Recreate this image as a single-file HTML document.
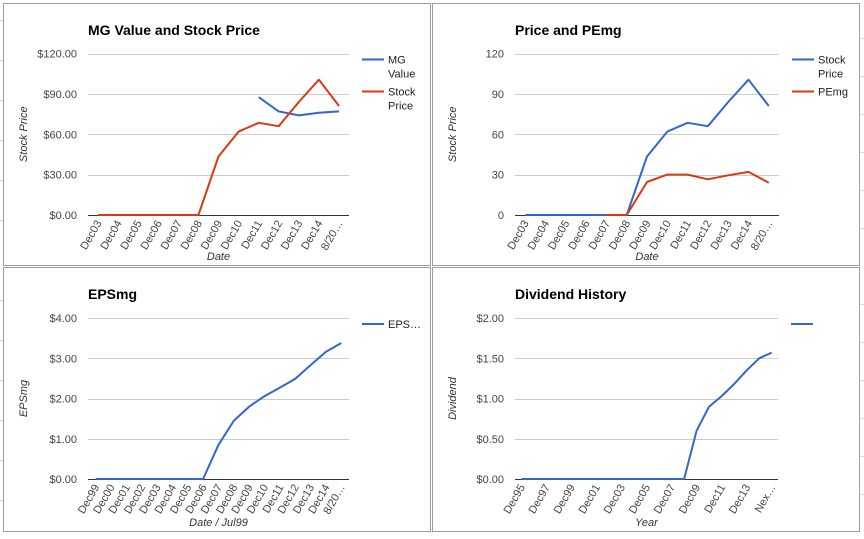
<!DOCTYPE html>
<html><head><meta charset="utf-8"><style>
body{margin:0;width:864px;height:534px;background:#fff;overflow:hidden;font-family:"Liberation Sans",Arial,sans-serif}
svg text{font-family:"Liberation Sans",Arial,sans-serif}
</style></head><body>
<svg id="root" width="864" height="534">
<g stroke="#d9d9d9" stroke-width="1">
<line x1="0" y1="20.5" x2="3" y2="20.5"/><line x1="0" y1="60.5" x2="3" y2="60.5"/><line x1="0" y1="100.5" x2="3" y2="100.5"/><line x1="0" y1="140.5" x2="3" y2="140.5"/><line x1="0" y1="180.5" x2="3" y2="180.5"/><line x1="0" y1="220.5" x2="3" y2="220.5"/><line x1="0" y1="300.5" x2="3" y2="300.5"/><line x1="0" y1="340.5" x2="3" y2="340.5"/><line x1="0" y1="380.5" x2="3" y2="380.5"/><line x1="0" y1="420.5" x2="3" y2="420.5"/><line x1="0" y1="460.5" x2="3" y2="460.5"/><line x1="0" y1="500.5" x2="3" y2="500.5"/>
<line x1="860" y1="38.5" x2="864" y2="38.5"/><line x1="860" y1="76.5" x2="864" y2="76.5"/><line x1="860" y1="114.5" x2="864" y2="114.5"/><line x1="860" y1="152.5" x2="864" y2="152.5"/><line x1="860" y1="190.5" x2="864" y2="190.5"/><line x1="860" y1="228.5" x2="864" y2="228.5"/><line x1="860" y1="304.5" x2="864" y2="304.5"/><line x1="860" y1="342.5" x2="864" y2="342.5"/><line x1="860" y1="380.5" x2="864" y2="380.5"/><line x1="860" y1="418.5" x2="864" y2="418.5"/><line x1="860" y1="456.5" x2="864" y2="456.5"/><line x1="860" y1="494.5" x2="864" y2="494.5"/>
</g>
</svg>
<script>
// Chart 1: MG Value and Stock Price
const c1Categories=["Dec03","Dec04","Dec05","Dec06","Dec07","Dec08","Dec09","Dec10","Dec11","Dec12","Dec13","Dec14","8/20\u2026"];
const c1MgValue=[null,null,null,null,null,null,null,null,87.5,77,74,76,77];
const c1StockPrice=[0,0,0,0,0,0,43.5,62,68.5,66,84,100.5,81];
const c1Ticks=[0,30,60,90,120];
const c1TickLabels=["$0.00","$30.00","$60.00","$90.00","$120.00"];
// Chart 2: Price and PEmg
const c2Categories=["Dec03","Dec04","Dec05","Dec06","Dec07","Dec08","Dec09","Dec10","Dec11","Dec12","Dec13","Dec14","8/20\u2026"];
const c2StockPrice=[0,0,0,0,0,0,43.5,62,68.5,66,84,100.5,81];
const c2PEmg=[null,null,null,null,0,0,24.5,30,30,26.5,29.5,32,24];
const c2Ticks=[0,30,60,90,120];
const c2TickLabels=["0","30","60","90","120"];
// Chart 3: EPSmg
const c3Categories=["Dec99","Dec00","Dec01","Dec02","Dec03","Dec04","Dec05","Dec06","Dec07","Dec08","Dec09","Dec10","Dec11","Dec12","Dec13","Dec14","8/20\u2026"];
const c3EPS=[0,0,0,0,0,0,0,0,0.85,1.45,1.8,2.06,2.27,2.49,2.83,3.16,3.38];
const c3Ticks=[0,1,2,3,4];
const c3TickLabels=["$0.00","$1.00","$2.00","$3.00","$4.00"];
// Chart 4: Dividend History
const c4Categories=["Dec95","Dec96","Dec97","Dec98","Dec99","Dec00","Dec01","Dec02","Dec03","Dec04","Dec05","Dec06","Dec07","Dec08","Dec09","Dec10","Dec11","Dec12","Dec13","Dec14","Nex\u2026"];
const c4Dividend=[0,0,0,0,0,0,0,0,0,0,0,0,0,0,0.6,0.9,1.03,1.18,1.35,1.5,1.57];
const c4Ticks=[0,0.5,1,1.5,2];
const c4TickLabels=["$0.00","$0.50","$1.00","$1.50","$2.00"];

const NS="http://www.w3.org/2000/svg";
const root=document.getElementById('root');
function mk(tag,attrs,parent){const e=document.createElementNS(NS,tag);for(const k in attrs)e.setAttribute(k,attrs[k]);parent.appendChild(e);return e;}

function chart(o){
  const g=mk('g',{},root);
  
  
  const frame=mk('rect',{x:o.px+0.5,y:o.py+0.5,width:o.pw,height:o.ph,fill:'#fff',stroke:'#9e9e9e','stroke-width':1},g);
  
  
  const t=mk('text',{x:o.titleX,y:o.py+32,'font-size':14,'font-weight':'bold',fill:'#000'},g);
  t.textContent=o.title;
  
  
  const yMax=o.ticks[o.ticks.length-1];
  const ys=v=>o.y0-(v/yMax)*(o.y0-o.yTop);
  const n=o.cats.length;
  const step=(o.x1-o.x0)/n;
  const xs=i=>o.x0+step*(i+0.5);
  o.ticks.forEach((v,i)=>{
    const l=mk('line',{x1:o.x0,x2:o.x1,y1:Math.round(ys(v))+0.5,y2:Math.round(ys(v))+0.5,stroke:i===0?'#333':'#ccc','stroke-width':1},g);
    
    
    const tl=mk('text',{x:o.x0-11,y:ys(v)+4,'font-size':11,fill:'#444','text-anchor':'end'},g);
    tl.textContent=o.tickLabels[i];
    
    
  });
  o.cats.forEach((c,i)=>{
    if(i%o.labelEvery!==0)return;
    const x=xs(i)+4,y=o.y0+8;
    const tl=mk('text',{x:x,y:y,'font-size':11,fill:'#444','text-anchor':'end',transform:`rotate(-60 ${x} ${y})`},g);
    tl.textContent=c;
    
    
  });
  const xt=mk('text',{x:(o.x0+o.x1)/2,y:o.py+o.ph-5,'font-size':11,'font-style':'italic',fill:'#333','text-anchor':'middle'},g);
  xt.textContent=o.xTitle;
  
  
  const yx=o.px+24,yy=(o.y0+o.yTop)/2;
  const yt=mk('text',{x:yx,y:yy,'font-size':11,'font-style':'italic',fill:'#333','text-anchor':'middle',transform:`rotate(-90 ${yx} ${yy})`},g);
  yt.textContent=o.yTitle;
  
  
  o.series.forEach((s,si)=>{
    let d='',pen=false;
    s.values.forEach((v,i)=>{
      if(v===null){pen=false;return;}
      d+=(pen?'L':'M')+xs(i).toFixed(1)+' '+ys(v).toFixed(1)+' ';pen=true;
    });
    const p=mk('path',{d:d,fill:'none',stroke:s.color,'stroke-width':2,'stroke-linejoin':'round'},g);
    
    
    const ly=o.yTop+6+si*32;
    const ll=mk('line',{x1:o.x1+13,x2:o.x1+35,y1:ly,y2:ly,stroke:s.color,'stroke-width':2},g);
    
    
    s.label.forEach((ln,k)=>{
      const lt=mk('text',{x:o.x1+39,y:ly+4+k*14,'font-size':11,fill:'#222'},g);
      lt.textContent=ln;
      
      
    });
  });
}
chart({name:'mg-value-stock-price-chart',title:'MG Value and Stock Price',px:3,py:3,pw:427,ph:262,titleX:88,x0:88,x1:349,y0:215,yTop:53.5,
  cats:c1Categories,ticks:c1Ticks,tickLabels:c1TickLabels,labelEvery:1,xTitle:'Date',yTitle:'Stock Price',
  series:[{key:'mg-value',values:c1MgValue,color:'#3366cc',label:['MG','Value']},{key:'stock-price',values:c1StockPrice,color:'#dc3912',label:['Stock','Price']}]});
chart({name:'price-pemg-chart',title:'Price and PEmg',px:432,py:3,pw:427,ph:262,titleX:515,x0:515,x1:779,y0:215,yTop:53.5,
  cats:c2Categories,ticks:c2Ticks,tickLabels:c2TickLabels,labelEvery:1,xTitle:'Date',yTitle:'Stock Price',
  series:[{key:'stock-price',values:c2StockPrice,color:'#3366cc',label:['Stock','Price']},{key:'pemg',values:c2PEmg,color:'#dc3912',label:['PEmg']}]});
chart({name:'epsmg-chart',title:'EPSmg',px:3,py:267,pw:427,ph:264,titleX:88,x0:88,x1:349,y0:479,yTop:318,
  cats:c3Categories,ticks:c3Ticks,tickLabels:c3TickLabels,labelEvery:1,xTitle:'Date / Jul99',yTitle:'EPSmg',
  series:[{key:'epsmg',values:c3EPS,color:'#3366cc',label:['EPS\u2026']}]});
chart({name:'dividend-history-chart',title:'Dividend History',px:432,py:267,pw:427,ph:264,titleX:515,x0:515,x1:778,y0:479,yTop:318,
  cats:c4Categories,ticks:c4Ticks,tickLabels:c4TickLabels,labelEvery:2,xTitle:'Year',yTitle:'Dividend',
  series:[{key:'dividend',values:c4Dividend,color:'#3366cc',label:[]}]});
</script>
</body></html>
